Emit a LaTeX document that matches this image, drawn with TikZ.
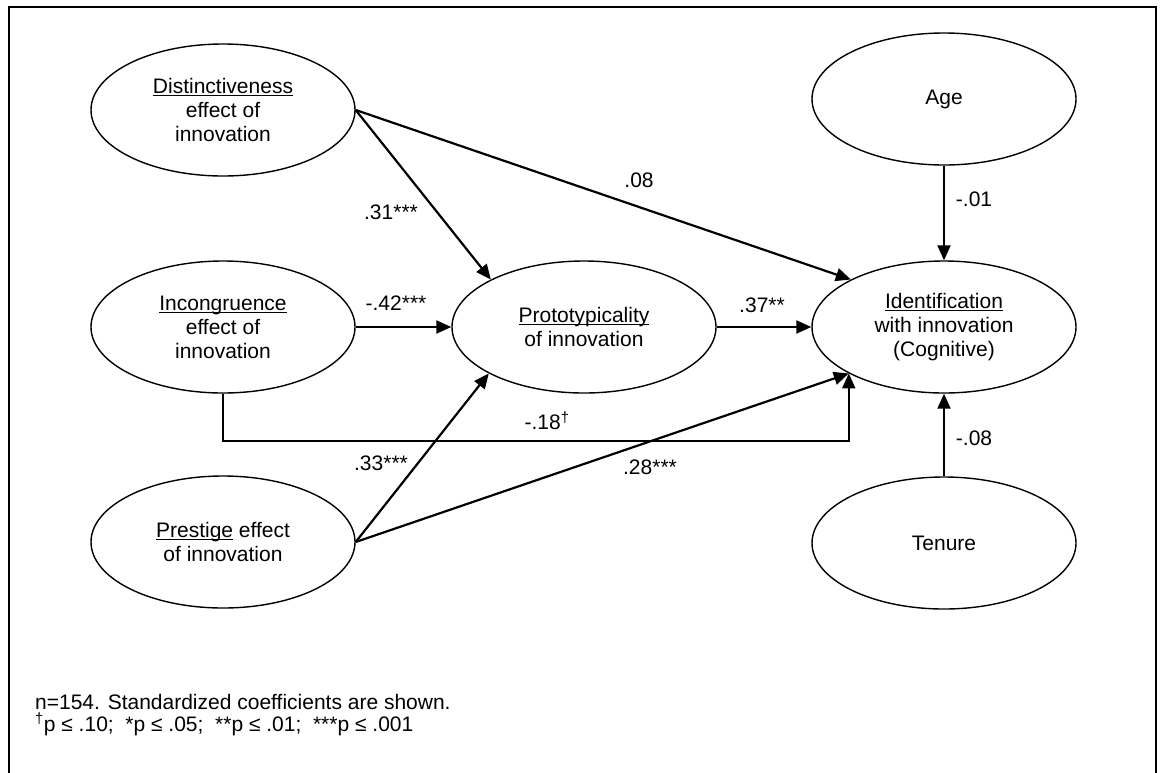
\documentclass[tikz,border=0pt]{standalone}
\usepackage{fontspec}
\setmainfont{Liberation Sans}
\usetikzlibrary{arrows.meta,calc,shapes.geometric}
\newcommand\myul[1]{\setbox0=\hbox{#1}\rlap{\rule[-2.6pt]{\wd0}{1.1pt}}\box0\relax}
\tikzset{
  ell/.style={ellipse, draw, line width=1.4pt, minimum width=264pt, minimum height=132pt,
    inner sep=0pt, align=center, font=\fontsize{21pt}{24pt}\selectfont},
  arr/.style={line width=2.2pt, -{Triangle[length=15pt,width=13pt]}},
  lab/.style={font=\fontsize{21pt}{24pt}\selectfont, inner sep=0pt},
  note/.style={font=\fontsize{21pt}{21.5pt}\selectfont, inner sep=0pt, align=left, anchor=west}
}
\begin{document}
\begin{tikzpicture}[x=1pt,y=-1pt]
\useasboundingbox (0,0) rectangle (1166,772);
\draw[line width=2.5pt] (9,7) rectangle (1156,800);
% nodes
\node[ell] (dist) at (223,110) {\myul{Distinctiveness}\\effect of\\innovation};
\node[ell] (inc) at (223,327) {\myul{Incongruence}\\effect of\\innovation};
\node[ell] (pres) at (223,542) {\myul{Prestige} effect\\of innovation};
\node[ell] (proto) at (584,327) {\myul{Prototypicality}\\of innovation};
\node[ell] (ident) at (944,327) {\myul{Identification}\\with innovation\\(Cognitive)};
\node[ell] (age) at (944,99) {Age};
\node[ell] (ten) at (944,543) {Tenure};
% helper
\coordinate (yline) at (0,441);
% connectors
\draw[arr] (dist.east) -- (proto.153.4);
\draw[arr] (dist.east) -- (ident.153.4);
\draw[arr] (inc.east) -- (proto.west);
\draw[arr] (proto.east) -- (ident.west);
\draw[arr] (inc.south) -- (inc.south |- yline) -| (ident.206.6);
\draw[arr] (pres.east) -- (proto.206.6);
\draw[arr] (pres.east) -- (ident.206.6);
\draw[arr] (age.south) -- (ident.north);
\draw[arr] (ten.north) -- (ident.south);
% labels
\node[lab] (l08) at (639,180) {.08};
\node[lab] (l31) at (391,212) {.31***};
\node[lab] (l01) at (974,199) {-.01};
\node[lab] (l42) at (396,303) {-.42***};
\node[lab] (l37) at (762,305) {.37**};
\node[lab] (l18) at (547,421) {-.18\textsuperscript{†}};
\node[lab] (l33) at (381,463) {.33***};
\node[lab] (l28) at (650,467) {.28***};
\node[lab] (l08b) at (974,438) {-.08};
% footnote
\node[note] (fn) at (35,715) {n=154. Standardized coefficients are shown.\\\textsuperscript{†}p ≤ .10;\ \ *p ≤ .05;\ \ **p ≤ .01;\ \ ***p ≤ .001};
\end{tikzpicture}
\end{document}
